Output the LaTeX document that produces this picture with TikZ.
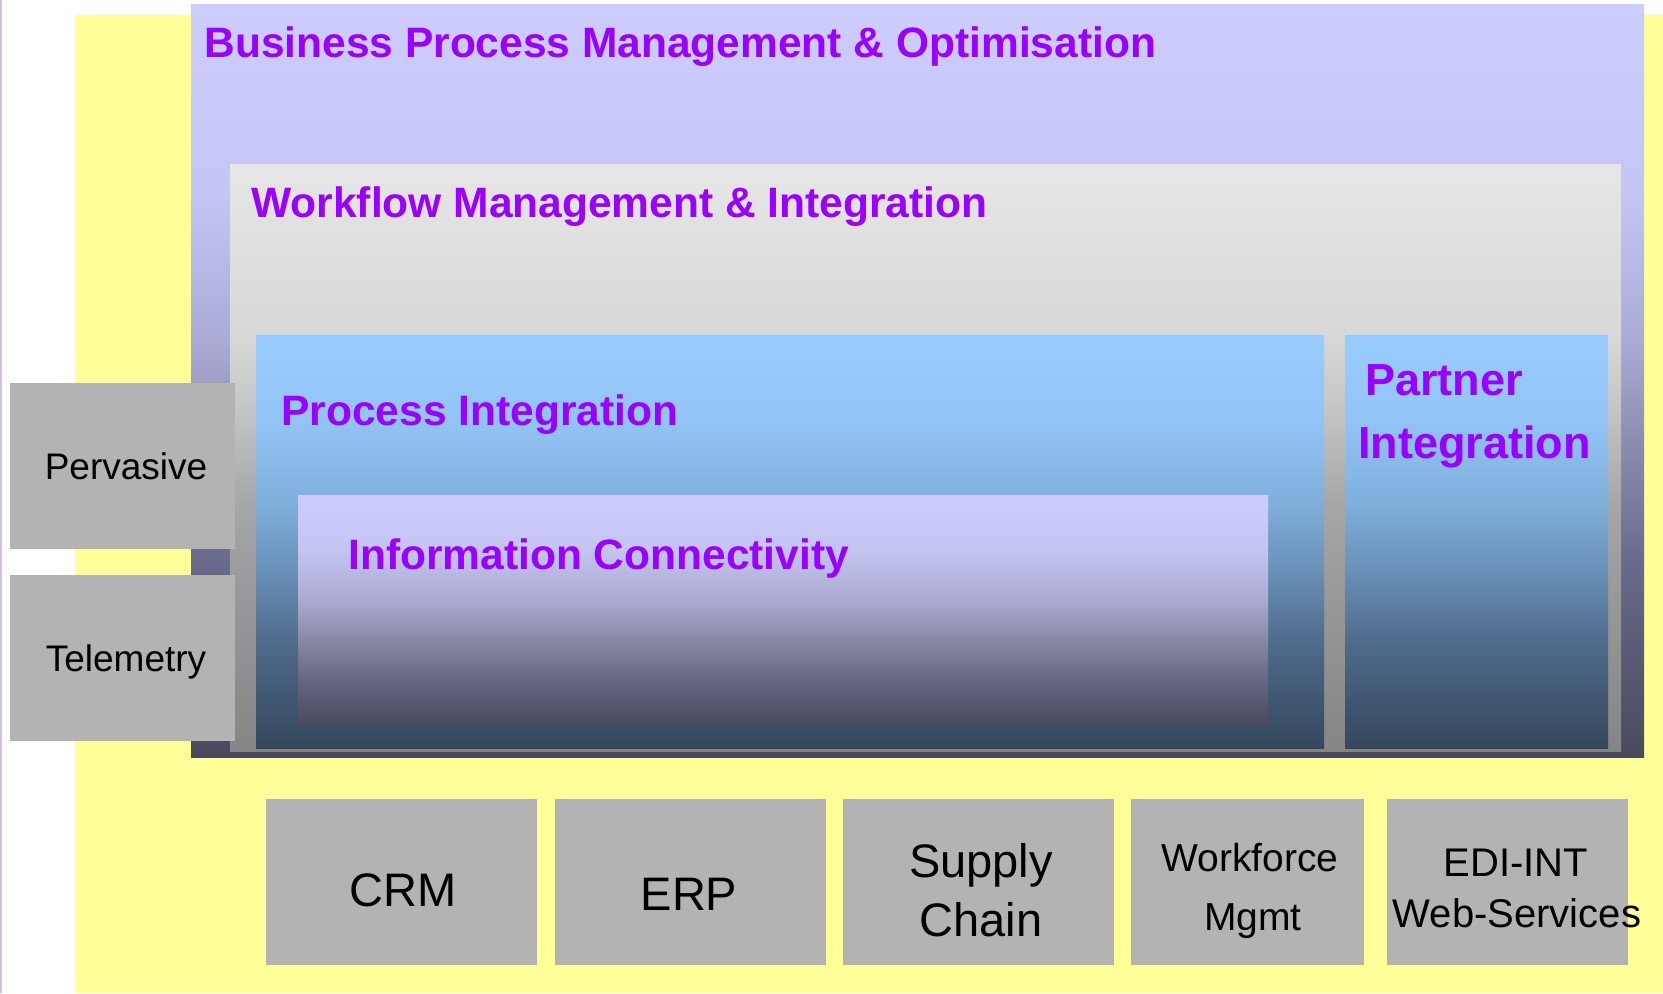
\documentclass[tikz,border=0pt]{standalone}
\usepackage{fontspec}
\setmainfont{Liberation Sans}
\definecolor{yel}{HTML}{FFFF99}
\definecolor{boxgray}{HTML}{B3B3B3}
\definecolor{purp}{HTML}{9900FF}
\definecolor{lav}{HTML}{D0C0E4}
\pgfdeclareverticalshading{bpmshade}{100bp}{
  color(0bp)=(rgb,255:red,74;green,74;blue,94);
  color(25bp)=(rgb,255:red,74;green,74;blue,94);
  color(37.5bp)=(rgb,255:red,104;green,104;blue,138);
  color(45bp)=(rgb,255:red,136;green,136;blue,170);
  color(52.5bp)=(rgb,255:red,170;green,170;blue,213);
  color(62.5bp)=(rgb,255:red,197;green,197;blue,245);
  color(75bp)=(rgb,255:red,204;green,204;blue,255);
  color(100bp)=(rgb,255:red,204;green,204;blue,255)}
\pgfdeclareverticalshading{wfshade}{100bp}{
  color(0bp)=(rgb,255:red,133;green,133;blue,133);
  color(25bp)=(rgb,255:red,133;green,133;blue,133);
  color(38bp)=(rgb,255:red,152;green,152;blue,152);
  color(46.5bp)=(rgb,255:red,168;green,168;blue,168);
  color(55bp)=(rgb,255:red,200;green,200;blue,200);
  color(60.5bp)=(rgb,255:red,216;green,216;blue,216);
  color(75bp)=(rgb,255:red,230;green,230;blue,230);
  color(100bp)=(rgb,255:red,230;green,230;blue,230)}
\pgfdeclareverticalshading{procshade}{100bp}{
  color(0bp)=(rgb,255:red,53;green,71;blue,92);
  color(25bp)=(rgb,255:red,53;green,71;blue,92);
  color(37.5bp)=(rgb,255:red,78;green,106;blue,138);
  color(47.5bp)=(rgb,255:red,108;green,148;blue,188);
  color(55bp)=(rgb,255:red,128;green,176;blue,220);
  color(65bp)=(rgb,255:red,146;green,196;blue,246);
  color(75bp)=(rgb,255:red,153;green,204;blue,255);
  color(100bp)=(rgb,255:red,153;green,204;blue,255)}
\pgfdeclareverticalshading{infoshade}{100bp}{
  color(0bp)=(rgb,255:red,72;green,74;blue,94);
  color(25bp)=(rgb,255:red,72;green,74;blue,94);
  color(33.5bp)=(rgb,255:red,98;green,98;blue,126);
  color(44bp)=(rgb,255:red,138;green,138;blue,168);
  color(51.5bp)=(rgb,255:red,168;green,168;blue,206);
  color(63bp)=(rgb,255:red,196;green,196;blue,242);
  color(75bp)=(rgb,255:red,204;green,204;blue,255);
  color(100bp)=(rgb,255:red,204;green,204;blue,255)}
\tikzset{
  title/.style={text=purp, font=\fontsize{21.25}{25}\selectfont\bfseries, inner sep=0pt, anchor=base west},
  ptitle/.style={text=purp, font=\fontsize{22.5}{27}\selectfont\bfseries, inner sep=0pt, anchor=base west},
  sidetxt/.style={text=black, font=\fontsize{18.5}{22}\selectfont, inner sep=0pt, anchor=base},
  bigtxt/.style={text=black, font=\fontsize{23.5}{28}\selectfont, inner sep=0pt, anchor=base},
  midtxt/.style={text=black, font=\fontsize{19.5}{23}\selectfont, inner sep=0pt, anchor=base},
  edtxt/.style={text=black, font=\fontsize{20}{24}\selectfont, inner sep=0pt, anchor=base},
  graybox/.style={fill=boxgray, draw=none}
}
\begin{document}
\begin{tikzpicture}[x=0.5pt,y=-0.5pt]
\useasboundingbox (0,0) rectangle (1663,993);
\fill[white] (0,0) rectangle (1663,993);
\draw[lav, line width=0.75pt] (0.75,0) -- (0.75,993);
% yellow background
\fill[yel] (75,15) rectangle (1663,993);
% layers
\shade[shading=bpmshade] (191,4) rectangle (1644,757);
\shade[shading=wfshade] (230,164) rectangle (1621,751);
\shade[shading=procshade] (256,335) rectangle (1324,748);
\shade[shading=procshade] (1345,335) rectangle (1608,748);
\shade[shading=infoshade] (298,495) rectangle (1268,725);
% side boxes
\fill[graybox] (10,383) rectangle (235,549);
\fill[graybox] (10,575) rectangle (235,741);
% bottom boxes
\fill[graybox] (266,799) rectangle (537,965);
\fill[graybox] (555,799) rectangle (826,965);
\fill[graybox] (843,799) rectangle (1114,965);
\fill[graybox] (1131,799) rectangle (1364,965);
\fill[graybox] (1387,799) rectangle (1628,965);
% titles
\node[title] (bpm) at (204,57) {Business Process Management \& Optimisation};
\node[title] (wf) at (251,217) {Workflow Management \& Integration};
\node[title] (pi) at (281,425) {Process Integration};
\node[title] (ic) at (348,569) {Information Connectivity};
\node[ptitle] (pa1) at (1365,395) {Partner};
\node[ptitle] (pa2) at (1358,458) {Integration};
% side texts
\node[sidetxt] (perv) at (126,479) {Pervasive};
\node[sidetxt] (tele) at (126,671) {Telemetry};
% bottom texts
\node[bigtxt] (crm) at (403,906) {CRM};
\node[bigtxt] (erp) at (689,910) {ERP};
\node[bigtxt] (sc1) at (981,877) {Supply};
\node[bigtxt] (sc2) at (981,936) {Chain};
\node[midtxt] (wm1) at (1250,871) {Workforce};
\node[midtxt] (wm2) at (1253,930) {Mgmt};
\node[edtxt] (ed1) at (1516,876) {EDI-INT};
\node[edtxt] (ed2) at (1517,927) {Web-Services};
\end{tikzpicture}
\end{document}
